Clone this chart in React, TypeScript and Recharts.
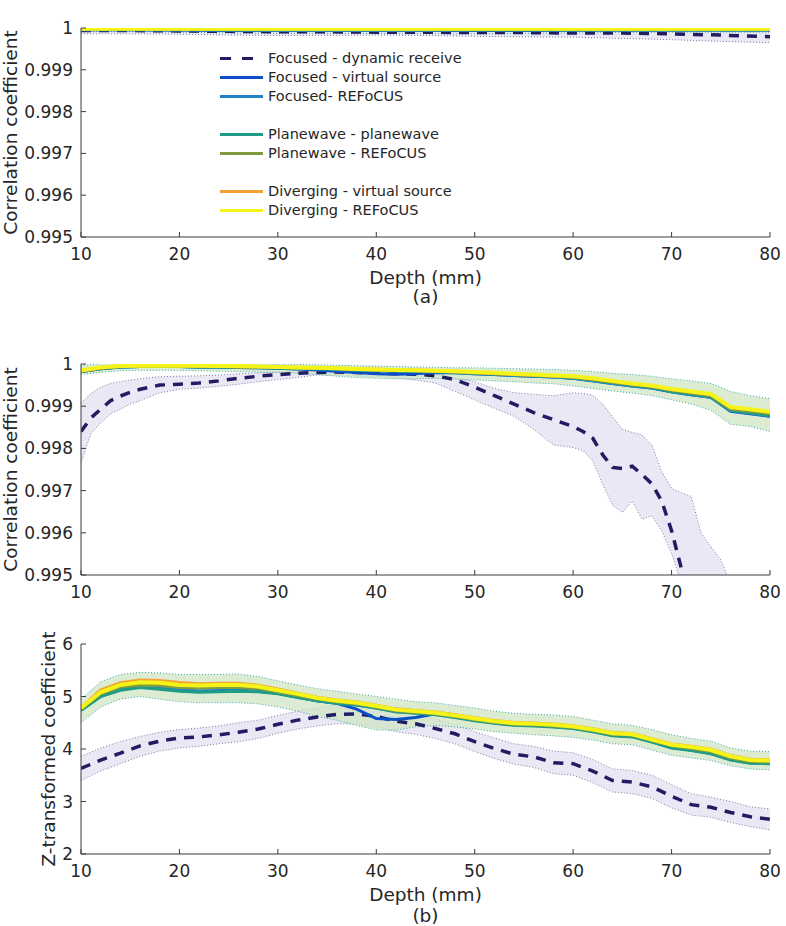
import { ComposedChart, Line, Area, XAxis, YAxis, Legend } from "recharts";

// depth samples (mm)
const DEPTH_A = [10, 15, 20, 25, 30, 35, 40, 45, 50, 55, 60, 65, 70, 75, 80];
const DEPTH_B = [10, 12, 14, 16, 18, 20, 22, 24, 26, 28, 30, 32, 34, 36, 38, 40, 42, 44, 46, 48, 50, 52, 54, 56, 58, 60, 62, 64, 66, 68, 70, 72, 74, 76, 78, 80];
const DEPTH_B_DR = [10, 11, 12, 13, 14, 15, 16, 18, 20, 22, 24, 26, 28, 30, 32, 34, 36, 38, 40, 42, 44, 46, 48, 50, 52, 54, 56, 58, 60, 61, 62, 63, 64, 65, 66, 67, 68, 69, 70, 71, 72, 73, 74, 75, 76];
const DEPTH_C = DEPTH_B;

const X_TICKS = [10, 20, 30, 40, 50, 60, 70, 80];
const CORR_TICKS = [0.995, 0.996, 0.997, 0.998, 0.999, 1];
const Z_TICKS = [2, 3, 4, 5, 6];

// (a) 9.3 V transmit – correlation coefficient
const A_DYN = [0.99994, 0.99994, 0.99993, 0.99992, 0.99991, 0.99991, 0.9999, 0.9999, 0.99989, 0.99989, 0.99988, 0.99988, 0.99986, 0.99983, 0.99979];
const A_DYN_LO = [0.99986, 0.99986, 0.99985, 0.99983, 0.99982, 0.99982, 0.99983, 0.99982, 0.9998, 0.99979, 0.99978, 0.99975, 0.99972, 0.99968, 0.99965];
const A_DYN_HI = [1.00001, 1.00001, 1.00001, 1.00001, 1.00001, 1.00001, 1.00001, 1.00001, 1.00001, 1.00001, 1.00001, 1.00001, 1.00001, 1.00001, 1.00001];
const A_VS = [0.99996, 0.99996, 0.99995, 0.99994, 0.99994, 0.99994, 0.99994, 0.99994, 0.99994, 0.99994, 0.99995, 0.99995, 0.99995, 0.99995, 0.99995];
const A_FREF = [0.99996, 0.99996, 0.99995, 0.99995, 0.99994, 0.99994, 0.99994, 0.99994, 0.99995, 0.99995, 0.99995, 0.99995, 0.99995, 0.99995, 0.99995];
const A_PW = [0.99997, 0.99997, 0.99997, 0.99996, 0.99996, 0.99996, 0.99996, 0.99996, 0.99996, 0.99996, 0.99996, 0.99996, 0.99996, 0.99996, 0.99996];
const A_PREF = [0.99997, 0.99997, 0.99997, 0.99997, 0.99997, 0.99997, 0.99997, 0.99997, 0.99997, 0.99997, 0.99997, 0.99997, 0.99997, 0.99997, 0.99997];
const A_DVS = [0.99998, 0.99998, 0.99998, 0.99998, 0.99998, 0.99998, 0.99998, 0.99998, 0.99998, 0.99998, 0.99998, 0.99998, 0.99998, 0.99998, 0.99998];
const A_DREF = [0.99998, 0.99998, 0.99998, 0.99998, 0.99998, 0.99998, 0.99998, 0.99998, 0.99998, 0.99998, 0.99998, 0.99998, 0.99998, 0.99998, 0.99998];
const A_BAND_LO = [0.99992, 0.99992, 0.9999, 0.99988, 0.99987, 0.99987, 0.99987, 0.99986, 0.99986, 0.99987, 0.99988, 0.99989, 0.9999, 0.9999, 0.9999];
const A_BAND_HI = [1.00003, 1.00003, 1.00003, 1.00003, 1.00003, 1.00003, 1.00003, 1.00003, 1.00003, 1.00003, 1.00003, 1.00003, 1.00003, 1.00003, 1.00003];

// (b) 1.6 V transmit – correlation coefficient
const B_DYN = [0.9984, 0.99872, 0.99893, 0.99913, 0.99924, 0.99933, 0.9994, 0.9995, 0.99952, 0.99955, 0.9996, 0.99966, 0.99971, 0.99975, 0.99978, 0.9998, 0.99981, 0.9998, 0.99978, 0.99977, 0.99976, 0.99972, 0.99963, 0.99945, 0.99925, 0.99905, 0.99885, 0.99868, 0.99852, 0.9984, 0.99824, 0.99785, 0.99755, 0.99752, 0.99758, 0.99738, 0.99716, 0.99675, 0.99605, 0.99515, 0.9942, 0.9935, 0.993, 0.9925, 0.992];
const B_DYN_LO = [0.99765, 0.99835, 0.9986, 0.99882, 0.99893, 0.99905, 0.99913, 0.99932, 0.9994, 0.99943, 0.99947, 0.99952, 0.99958, 0.99963, 0.99968, 0.99974, 0.99974, 0.99972, 0.9997, 0.99967, 0.99962, 0.99955, 0.99935, 0.99915, 0.99895, 0.99876, 0.99845, 0.99808, 0.99802, 0.99795, 0.9977, 0.99715, 0.99665, 0.99648, 0.99675, 0.99632, 0.9964, 0.99605, 0.99551, 0.9948, 0.994, 0.9935, 0.993, 0.9925, 0.992];
const B_DYN_HI = [0.99907, 0.9993, 0.99945, 0.99954, 0.99958, 0.99962, 0.99965, 0.9997, 0.99971, 0.99972, 0.99974, 0.99977, 0.99979, 0.99981, 0.99982, 0.99982, 0.99982, 0.99982, 0.99982, 0.99982, 0.9998, 0.99976, 0.99968, 0.99958, 0.99942, 0.99932, 0.99928, 0.99925, 0.99932, 0.9993, 0.99926, 0.99905, 0.99875, 0.99845, 0.99838, 0.99832, 0.99808, 0.99745, 0.99705, 0.99695, 0.99686, 0.99599, 0.99567, 0.99536, 0.9948];
const B_VS = [0.99982, 0.99989, 0.99993, 0.99994, 0.99994, 0.99994, 0.99993, 0.99993, 0.99992, 0.99991, 0.9999, 0.99988, 0.99986, 0.99983, 0.9998, 0.99977, 0.99976, 0.99977, 0.9998, 0.99979, 0.99977, 0.99975, 0.99973, 0.99971, 0.99969, 0.99966, 0.9996, 0.99954, 0.99948, 0.99943, 0.99934, 0.99927, 0.99921, 0.99888, 0.99882, 0.99876];
const B_FREF = [0.99982, 0.99989, 0.99993, 0.99994, 0.99994, 0.99994, 0.99993, 0.99993, 0.99992, 0.99991, 0.9999, 0.99989, 0.99988, 0.99987, 0.99985, 0.99984, 0.99983, 0.99982, 0.99981, 0.99979, 0.99977, 0.99975, 0.99973, 0.99971, 0.99969, 0.99966, 0.9996, 0.99954, 0.99948, 0.99943, 0.99934, 0.99927, 0.99921, 0.99889, 0.99883, 0.99877];
const B_PW = [0.99982, 0.99989, 0.99993, 0.99994, 0.99994, 0.99994, 0.99993, 0.99993, 0.99992, 0.99992, 0.99991, 0.9999, 0.99989, 0.99988, 0.99986, 0.99985, 0.99984, 0.99983, 0.99982, 0.9998, 0.99978, 0.99976, 0.99974, 0.99972, 0.9997, 0.99967, 0.99961, 0.99955, 0.99949, 0.99944, 0.99935, 0.99928, 0.99922, 0.9989, 0.99884, 0.99878];
const B_PREF = [0.99983, 0.9999, 0.99994, 0.99995, 0.99995, 0.99995, 0.99994, 0.99994, 0.99993, 0.99993, 0.99992, 0.99991, 0.9999, 0.99989, 0.99987, 0.99986, 0.99985, 0.99984, 0.99983, 0.99981, 0.99979, 0.99977, 0.99975, 0.99973, 0.99971, 0.99969, 0.99963, 0.99957, 0.99951, 0.99946, 0.99938, 0.99931, 0.99925, 0.99893, 0.99888, 0.99882];
const B_DVS = [0.99984, 0.99991, 0.99995, 0.99996, 0.99996, 0.99996, 0.99995, 0.99995, 0.99994, 0.99994, 0.99993, 0.99992, 0.99991, 0.9999, 0.99988, 0.99987, 0.99986, 0.99985, 0.99984, 0.99982, 0.9998, 0.99978, 0.99976, 0.99974, 0.99972, 0.9997, 0.99965, 0.99959, 0.99953, 0.99948, 0.9994, 0.99934, 0.99928, 0.99897, 0.99892, 0.99886];
const B_DREF = [0.99985, 0.99992, 0.99995, 0.99996, 0.99996, 0.99996, 0.99996, 0.99995, 0.99995, 0.99994, 0.99993, 0.99992, 0.99991, 0.9999, 0.99988, 0.99987, 0.99986, 0.99985, 0.99984, 0.99983, 0.99981, 0.99979, 0.99977, 0.99975, 0.99973, 0.99971, 0.99966, 0.9996, 0.99954, 0.99949, 0.99941, 0.99935, 0.99929, 0.99898, 0.99893, 0.99887];
const B_BAND_LO = [0.99975, 0.9998, 0.99984, 0.99985, 0.99985, 0.99985, 0.99984, 0.99983, 0.99982, 0.99981, 0.9998, 0.99978, 0.99975, 0.99971, 0.99968, 0.99966, 0.99965, 0.99965, 0.99966, 0.99964, 0.99962, 0.9996, 0.99958, 0.99955, 0.99953, 0.99948, 0.99942, 0.99936, 0.99931, 0.99925, 0.99915, 0.99905, 0.9989, 0.99857, 0.99852, 0.9984];
const B_BAND_HI = [0.99996, 1.00001, 1.00002, 1.00002, 1.00002, 1.00002, 1.00002, 1.00002, 1.00001, 1.00001, 1.0, 0.99999, 0.99998, 0.99997, 0.99996, 0.99995, 0.99994, 0.99993, 0.99992, 0.99991, 0.99991, 0.9999, 0.99989, 0.99988, 0.99987, 0.99985, 0.99982, 0.99978, 0.99975, 0.99971, 0.99965, 0.9996, 0.99954, 0.99935, 0.99925, 0.99918];

// (b) 1.6 V transmit – Z-transformed coefficient
const C_DYN = [3.63, 3.79, 3.92, 4.06, 4.15, 4.21, 4.23, 4.27, 4.32, 4.38, 4.47, 4.55, 4.61, 4.66, 4.67, 4.62, 4.53, 4.48, 4.39, 4.29, 4.14, 4.01, 3.9, 3.85, 3.74, 3.72, 3.58, 3.4, 3.37, 3.28, 3.1, 2.94, 2.89, 2.79, 2.71, 2.66];
const C_DYN_HI = [3.86, 4.02, 4.14, 4.24, 4.32, 4.37, 4.4, 4.44, 4.5, 4.55, 4.64, 4.72, 4.78, 4.84, 4.86, 4.82, 4.74, 4.66, 4.57, 4.47, 4.33, 4.21, 4.1, 4.05, 3.96, 3.93, 3.8, 3.62, 3.59, 3.5, 3.32, 3.15, 3.08, 3.0, 2.9, 2.86];
const C_DYN_LO = [3.4, 3.58, 3.72, 3.86, 3.96, 4.02, 4.05, 4.1, 4.14, 4.2, 4.3, 4.38, 4.44, 4.48, 4.48, 4.42, 4.33, 4.28, 4.2, 4.1, 3.95, 3.82, 3.71, 3.65, 3.53, 3.5, 3.36, 3.18, 3.15, 3.06, 2.88, 2.74, 2.7, 2.6, 2.52, 2.46];
const C_VS = [4.74, 5.01, 5.14, 5.18, 5.16, 5.12, 5.1, 5.11, 5.12, 5.1, 5.06, 4.99, 4.92, 4.87, 4.76, 4.58, 4.56, 4.6, 4.67, 4.61, 4.55, 4.5, 4.46, 4.45, 4.43, 4.4, 4.34, 4.26, 4.24, 4.14, 4.03, 3.98, 3.92, 3.8, 3.74, 3.73];
const C_FREF = [4.74, 5.01, 5.14, 5.18, 5.16, 5.12, 5.1, 5.11, 5.12, 5.1, 5.06, 4.99, 4.92, 4.87, 4.84, 4.78, 4.71, 4.69, 4.66, 4.61, 4.55, 4.5, 4.46, 4.45, 4.43, 4.4, 4.34, 4.26, 4.24, 4.14, 4.03, 3.98, 3.92, 3.8, 3.74, 3.73];
const C_PW = [4.74, 5.0, 5.12, 5.17, 5.14, 5.1, 5.08, 5.09, 5.1, 5.09, 5.05, 4.98, 4.92, 4.87, 4.84, 4.78, 4.71, 4.68, 4.65, 4.6, 4.54, 4.49, 4.45, 4.44, 4.42, 4.39, 4.33, 4.25, 4.23, 4.13, 4.02, 3.97, 3.91, 3.79, 3.73, 3.72];
const C_PREF = [4.76, 5.05, 5.18, 5.22, 5.21, 5.17, 5.16, 5.17, 5.17, 5.15, 5.09, 5.02, 4.95, 4.9, 4.86, 4.8, 4.73, 4.7, 4.67, 4.62, 4.56, 4.51, 4.47, 4.46, 4.44, 4.41, 4.35, 4.28, 4.26, 4.16, 4.06, 4.01, 3.95, 3.83, 3.76, 3.75];
const C_DVS = [4.78, 5.12, 5.26, 5.31, 5.3, 5.26, 5.24, 5.25, 5.25, 5.21, 5.14, 5.06, 4.98, 4.93, 4.89, 4.83, 4.76, 4.73, 4.7, 4.65, 4.59, 4.54, 4.5, 4.49, 4.47, 4.44, 4.38, 4.31, 4.29, 4.19, 4.09, 4.05, 3.99, 3.87, 3.8, 3.79];
const C_DREF = [4.78, 5.08, 5.22, 5.27, 5.26, 5.22, 5.21, 5.22, 5.22, 5.19, 5.12, 5.05, 4.97, 4.92, 4.88, 4.82, 4.75, 4.72, 4.69, 4.64, 4.58, 4.53, 4.49, 4.48, 4.46, 4.43, 4.37, 4.3, 4.28, 4.18, 4.08, 4.04, 3.98, 3.86, 3.79, 3.78];
const C_BAND_LO = [4.5, 4.8, 4.95, 5.0, 4.95, 4.9, 4.88, 4.88, 4.88, 4.86, 4.8, 4.72, 4.62, 4.55, 4.45, 4.36, 4.36, 4.42, 4.45, 4.42, 4.38, 4.33, 4.3, 4.27, 4.25, 4.22, 4.17, 4.1, 4.08, 3.98, 3.88, 3.83, 3.78, 3.68, 3.62, 3.6];
const C_BAND_HI = [4.95, 5.28, 5.42, 5.46, 5.45, 5.42, 5.42, 5.42, 5.43, 5.38, 5.3, 5.22, 5.15, 5.1, 5.05, 5.0, 4.95, 4.9, 4.88, 4.83, 4.78, 4.72, 4.68, 4.66, 4.65, 4.62, 4.55, 4.48, 4.45, 4.37, 4.27, 4.2, 4.15, 4.02, 3.96, 3.95];

const SERIES = [
  { key: "dyn", name: "Focused - dynamic receive", color: "#221c63", width: 3.5, dashed: true, group: 0 },
  { key: "vs", name: "Focused - virtual source", color: "#0b50c6", width: 3, dashed: false, group: 0 },
  { key: "fref", name: "Focused- REFoCUS", color: "#1c85c9", width: 3, dashed: false, group: 0 },
  { key: "pw", name: "Planewave - planewave", color: "#1f9c86", width: 3, dashed: false, group: 1 },
  { key: "pref", name: "Planewave - REFoCUS", color: "#7f9d3f", width: 3, dashed: false, group: 1 },
  { key: "dvs", name: "Diverging - virtual source", color: "#f3a231", width: 3.5, dashed: false, group: 2 },
  { key: "dref", name: "Diverging - REFoCUS", color: "#f4f419", width: 4, dashed: false, group: 2 },
];

const DASH = "10 8";
const AXIS_COLOR = "#3c3c3c";
const TEXT_COLOR = "#262626";
const FONT = "DejaVu Sans";

const tableA = DEPTH_A.map((depth, i) => ({
  depth,
  dyn: A_DYN[i],
  dynBand: [A_DYN_LO[i], A_DYN_HI[i]],
  vs: A_VS[i],
  fref: A_FREF[i],
  pw: A_PW[i],
  pref: A_PREF[i],
  dvs: A_DVS[i],
  dref: A_DREF[i],
  band: [A_BAND_LO[i], A_BAND_HI[i]],
}));

const tableB = DEPTH_B.map((depth, i) => ({
  depth,
  vs: B_VS[i],
  fref: B_FREF[i],
  pw: B_PW[i],
  pref: B_PREF[i],
  dvs: B_DVS[i],
  dref: B_DREF[i],
  band: [B_BAND_LO[i], B_BAND_HI[i]],
}));

const tableBdr = DEPTH_B_DR.map((depth, i) => ({
  depth,
  dyn: B_DYN[i],
  dynBand: [B_DYN_LO[i], B_DYN_HI[i]],
}));

const tableC = DEPTH_C.map((depth, i) => ({
  depth,
  dyn: C_DYN[i],
  dynBand: [C_DYN_LO[i], C_DYN_HI[i]],
  vs: C_VS[i],
  fref: C_FREF[i],
  pw: C_PW[i],
  pref: C_PREF[i],
  dvs: C_DVS[i],
  dref: C_DREF[i],
  band: [C_BAND_LO[i], C_BAND_HI[i]],
}));

const corrFormat = (v: number) => (v >= 0.99999 ? "1" : v.toFixed(3));

function TitleLabel({ viewBox, text }: any) {
  if (!viewBox) return null;
  return (
    <text
      x={viewBox.x + viewBox.width / 2}
      y={viewBox.y - 8}
      textAnchor="middle"
      fontFamily={FONT}
      fontWeight="bold"
      fontSize={18}
      fill="#000"
    >
      {text}
    </text>
  );
}

function XLabel({ viewBox, text, caption, captionGap }: any) {
  if (!viewBox) return null;
  const cx = viewBox.x + viewBox.width / 2;
  return (
    <g fontFamily={FONT} fontSize={18.5} fill={TEXT_COLOR} textAnchor="middle">
      {text && (
        <text x={cx} y={viewBox.y + 47}>
          {text}
        </text>
      )}
      {caption && (
        <text x={cx} y={viewBox.y + captionGap}>
          {caption}
        </text>
      )}
    </g>
  );
}

function YLabel({ viewBox, text, baseX }: any) {
  if (!viewBox) return null;
  const cy = viewBox.y + viewBox.height / 2;
  return (
    <text
      x={baseX}
      y={cy}
      transform={`rotate(-90, ${baseX}, ${cy})`}
      textAnchor="middle"
      fontFamily={FONT}
      fontSize={18.5}
      fill={TEXT_COLOR}
    >
      {text}
    </text>
  );
}

function LegendBox() {
  let lastGroup = 0;
  return (
    <div style={{ fontFamily: FONT, fontSize: 14.5, color: TEXT_COLOR, lineHeight: "19px" }}>
      {SERIES.map((s) => {
        const gap = s.group !== lastGroup;
        lastGroup = s.group;
        return (
          <div key={s.key} style={{ display: "flex", alignItems: "center", height: 19, marginTop: gap ? 19 : 0 }}>
            <svg width={43} height={19} style={{ marginRight: 5, flex: "none" }}>
              <line
                x1={0}
                x2={43}
                y1={9.5}
                y2={9.5}
                stroke={s.color}
                strokeWidth={3}
                strokeDasharray={s.dashed ? "11 11" : undefined}
              />
            </svg>
            <span style={{ whiteSpace: "nowrap" }}>{s.name}</span>
          </div>
        );
      })}
    </div>
  );
}

interface PanelProps {
  height: number;
  marginTop: number;
  xAxisHeight: number;
  data: any[];
  drData?: any[];
  yDomain: [number, number];
  yTicks: number[];
  yFormat?: (v: number) => string;
  title?: string;
  yLabel: string;
  yLabelX: number;
  xLabel?: string;
  caption?: string;
  captionGap?: number;
  legend?: boolean;
  bandColor: string;
}

function Panel(p: PanelProps) {
  const tickStyle = { fontSize: 17, fill: TEXT_COLOR, fontFamily: FONT };
  return (
    <ComposedChart
      width={786}
      height={p.height}
      data={p.data}
      margin={{ top: p.marginTop, right: 16, bottom: 0, left: 0 }}
    >
      <XAxis
        dataKey="depth"
        type="number"
        domain={[10, 80]}
        ticks={X_TICKS}
        interval={0}
        allowDataOverflow
        height={p.xAxisHeight}
        tick={tickStyle}
        tickSize={-5}
        tickMargin={16}
        stroke={AXIS_COLOR}
        label={<XLabel text={p.xLabel} caption={p.caption} captionGap={p.captionGap} />}
      />
      <XAxis
        xAxisId="top"
        orientation="top"
        type="number"
        domain={[10, 80]}
        ticks={X_TICKS}
        interval={0}
        allowDataOverflow
        height={0}
        tick={false}
        tickSize={-5}
        stroke={AXIS_COLOR}
        label={p.title ? <TitleLabel text={p.title} /> : undefined}
      />
      <YAxis
        type="number"
        domain={p.yDomain}
        ticks={p.yTicks}
        interval={0}
        allowDataOverflow
        width={81}
        tick={tickStyle}
        tickFormatter={p.yFormat}
        tickSize={-5}
        tickMargin={13}
        stroke={AXIS_COLOR}
        label={<YLabel text={p.yLabel} baseX={p.yLabelX} />}
      />
      <YAxis
        yAxisId="right"
        orientation="right"
        type="number"
        domain={p.yDomain}
        ticks={p.yTicks}
        interval={0}
        allowDataOverflow
        width={0}
        tick={false}
        tickSize={-5}
        stroke={AXIS_COLOR}
      />
      <Area
        data={p.drData}
        dataKey="dynBand"
        type="linear"
        fill="#e8e6f4"
        fillOpacity={0.9}
        stroke="#7d7a9e"
        strokeWidth={1}
        strokeDasharray="1 2"
        dot={false}
        activeDot={false}
        isAnimationActive={false}
      />
      <Area
        dataKey="band"
        type="linear"
        fill={p.bandColor}
        fillOpacity={0.75}
        stroke="#3fa6a8"
        strokeWidth={1}
        strokeDasharray="1 2"
        dot={false}
        activeDot={false}
        isAnimationActive={false}
      />
      {SERIES.map((s) => (
        <Line
          key={s.key}
          data={s.key === "dyn" ? p.drData : undefined}
          dataKey={s.key}
          type="linear"
          stroke={s.color}
          strokeWidth={s.width}
          strokeDasharray={s.dashed ? DASH : undefined}
          dot={false}
          activeDot={false}
          isAnimationActive={false}
        />
      ))}
      {p.legend && (
        <Legend
          layout="vertical"
          align="center"
          verticalAlign="middle"
          content={<LegendBox />}
          wrapperStyle={{ left: 220, top: 49, width: 300 }}
        />
      )}
    </ComposedChart>
  );
}

export default function App() {
  return (
    <div style={{ position: "absolute", left: 0, top: 0, width: 786, height: 926, background: "#fff", fontFamily: FONT }}>
      <div style={{ position: "absolute", left: 0, top: 0 }}>
        <Panel
          height={310}
          marginTop={28}
          xAxisHeight={73}
          data={tableA}
          yDomain={[0.995, 1]}
          yTicks={CORR_TICKS}
          yFormat={corrFormat}
          title="9.3 V transmit"
          yLabel="Correlation coefficient"
          yLabelX={17}
          xLabel="Depth (mm)"
          caption="(a)"
          captionGap={66}
          legend
          bandColor="#d3e8ef"
        />
      </div>
      <div style={{ position: "absolute", left: 0, top: 330 }}>
        <Panel
          height={290}
          marginTop={34}
          xAxisHeight={45}
          data={tableB}
          drData={tableBdr}
          yDomain={[0.995, 1]}
          yTicks={CORR_TICKS}
          yFormat={corrFormat}
          title="1.6 V transmit"
          yLabel="Correlation coefficient"
          yLabelX={17}
          bandColor="#cfe5c4"
        />
      </div>
      <div style={{ position: "absolute", left: 0, top: 620 }}>
        <Panel
          height={306}
          marginTop={24}
          xAxisHeight={72}
          data={tableC}
          yDomain={[2, 6]}
          yTicks={Z_TICKS}
          yLabel="Z-transformed coefficient"
          yLabelX={55}
          xLabel="Depth (mm)"
          caption="(b)"
          captionGap={68}
          bandColor="#cfe5c4"
        />
      </div>
    </div>
  );
}
